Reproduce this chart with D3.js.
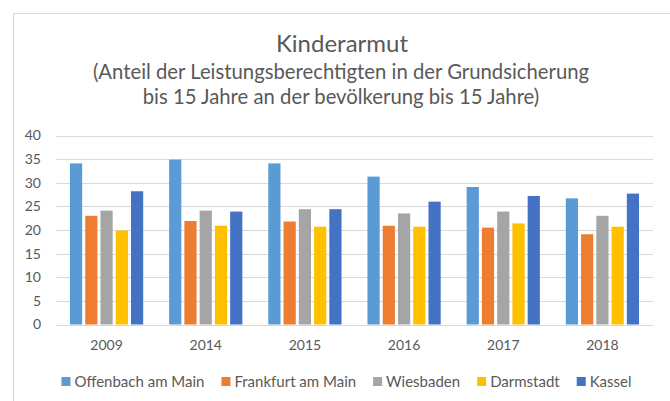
<!DOCTYPE html>
<html>
<head>
<meta charset="utf-8">
<script src="https://cdn.jsdelivr.net/npm/d3@7"></script>
<style>
  body { margin: 0; background: #fff; }
  svg { display: block; }
</style>
</head>
<body>
<div class="chart"></div>
<script>
// Data
var years = ["2009", "2014", "2015", "2016", "2017", "2018"];
var cities = ["Offenbach am Main", "Frankfurt am Main", "Wiesbaden", "Darmstadt", "Kassel"];
var offenbach = [34.1, 34.9, 34.1, 31.3, 29.1, 26.7];
var frankfurt = [23.0, 21.9, 21.8, 20.9, 20.5, 19.1];
var wiesbaden = [24.1, 24.1, 24.4, 23.5, 23.9, 23.0];
var darmstadt = [19.9, 20.9, 20.7, 20.7, 21.4, 20.7];
var kassel = [28.2, 23.9, 24.4, 26.0, 27.2, 27.7];
var yTicks = [0, 5, 10, 15, 20, 25, 30, 35, 40];

var seriesValues = [offenbach, frankfurt, wiesbaden, darmstadt, kassel];

var width = 670;
var height = 401;
var margin = ({ top: 135.5, right: 17, bottom: 76.5, left: 56 });

// Excel-ish colours
var colors = ["#5b9bd5", "#ed7d31", "#a5a5a5", "#ffc000", "#4472c4"];
var textFill = "#595959";
var gridStroke = "#d9d9d9";
var fontFace = "Lato, 'Open Sans', sans-serif";

var canvas = document.createElement('canvas'),
    context = canvas.getContext('2d');
function textWidth(text, fontSize) {
  context.font = fontSize + 'px ' + fontFace;
  return context.measureText(text).width;
}

var rows = years.map(function (y, i) {
  return { year: y, values: seriesValues.map(function (s, j) { return { city: cities[j], v: s[i], k: j }; }) };
});

var svg = d3.select("div.chart")
  .append("svg")
  .attr("width", width)
  .attr("height", height);

// Chart frame (runs off the right and bottom of the picture)
svg.append("rect")
  .attr("x", 13.5)
  .attr("y", 13.5)
  .attr("width", 700)
  .attr("height", 420)
  .attr("fill", "#fff")
  .attr("stroke", gridStroke);

var x0 = d3.scaleBand()
  .domain(years)
  .range([margin.left, width - margin.right])
  .paddingInner(0.2)
  .paddingOuter(0.11);

var x1 = d3.scaleBand()
  .domain(d3.range(cities.length))
  .range([0, x0.bandwidth()])
  .padding(0.2);

var y = d3.scaleLinear()
  .domain([0, 40])
  .range([height - margin.bottom, margin.top]);

// Gridlines
svg.append("g")
  .selectAll("line")
  .data(yTicks)
  .join("line")
  .attr("x1", margin.left)
  .attr("x2", width - margin.right)
  .attr("y1", d => Math.round(y(d)) + 0.5)
  .attr("y2", d => Math.round(y(d)) + 0.5)
  .attr("stroke", gridStroke);

// Y axis labels
var yAxis = svg.append("g")
  .attr("transform", `translate(${margin.left - 15},0)`)
  .call(d3.axisLeft(y).tickValues(yTicks).tickSize(0).tickPadding(0));
yAxis.select(".domain").remove();
yAxis.selectAll("text")
  .attr("fill", textFill)
  .attr("font-family", fontFace)
  .attr("font-size", 14);

// Bars
var groups = svg.append("g")
  .selectAll("g")
  .data(rows)
  .join("g")
  .attr("transform", d => `translate(${x0(d.year)},0)`);

groups.selectAll("rect")
  .data(d => d.values)
  .join("rect")
  .attr("x", d => x1(d.k))
  .attr("width", x1.bandwidth())
  .attr("y", d => y(d.v))
  .attr("height", d => y(0) - y(d.v))
  .attr("fill", d => colors[d.k]);

// X axis labels
var xAxis = svg.append("g")
  .attr("transform", `translate(0,${y(0) + 16})`)
  .call(d3.axisBottom(x0).tickSize(0).tickPadding(0));
xAxis.select(".domain").remove();
xAxis.selectAll("text")
  .attr("fill", textFill)
  .attr("font-family", fontFace)
  .attr("font-size", 14);

// Titles
svg.append("text")
  .attr("x", 342)
  .attr("y", 52)
  .attr("text-anchor", "middle")
  .attr("font-family", fontFace)
  .attr("font-size", 24)
  .attr("fill", textFill)
  .text("Kinderarmut");

var subtitle = ["(Anteil der Leistungsberechtigten in der Grundsicherung",
                "bis 15 Jahre an der bevölkerung bis 15 Jahre)"];
svg.selectAll("text.sub")
  .data(subtitle)
  .join("text")
  .attr("class", "sub")
  .attr("x", 341)
  .attr("y", (d, i) => 79 + i * 24.5)
  .attr("text-anchor", "middle")
  .attr("font-family", fontFace)
  .attr("font-size", 20.3)
  .attr("fill", textFill)
  .text(d => d);

// Legend, centred
var sq = 9, gapIcon = 4, gapItem = 17, legendFont = 15;
var itemWidths = cities.map(c => sq + gapIcon + textWidth(c, legendFont));
var total = d3.sum(itemWidths) + gapItem * (cities.length - 1);
var lx = 346.5 - total / 2;
var legend = svg.append("g");
cities.forEach(function (c, i) {
  var g = legend.append("g").attr("transform", `translate(${lx},381.5)`);
  g.append("rect")
    .attr("x", 0)
    .attr("y", -sq / 2)
    .attr("width", sq)
    .attr("height", sq)
    .attr("fill", colors[i]);
  g.append("text")
    .attr("x", sq + gapIcon)
    .attr("dy", "0.35em")
    .attr("font-family", fontFace)
    .attr("font-size", legendFont)
    .attr("fill", textFill)
    .text(c);
  lx += itemWidths[i] + gapItem;
});
</script>
</body>
</html>
